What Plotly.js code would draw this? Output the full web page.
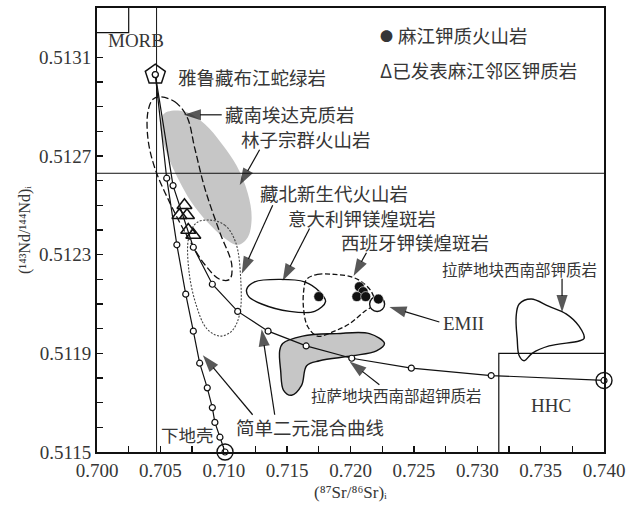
<!DOCTYPE html>
<html>
<head>
<meta charset="utf-8">
<script src="https://cdn.plot.ly/plotly-3.0.1.min.js"></script>
<style>
  html, body { margin: 0; padding: 0; background: #fff; }
  #chart { width: 630px; height: 512px; }
</style>
</head>
<body>
<div id="chart"></div>
<script>
// ---- end-members ----
const ophioliteSr = [0.7046], ophioliteNd = [0.51303];      // 雅鲁藏布江蛇绿岩
const lowerCrustSr = [0.7101], lowerCrustNd = [0.51150];    // 下地壳
const hhcSr = [0.7400], hhcNd = [0.51179];                  // HHC
const emiiSr = [0.7221], emiiNd = [0.51210];                // EMII

// ---- simple binary mixing curves ----
const mixCrustSr = [0.7046, 0.7055, 0.7063, 0.7070, 0.7076, 0.7081, 0.7087, 0.7091, 0.7093, 0.7097, 0.7101];
const mixCrustNd = [0.51303, 0.51261, 0.51234, 0.51214, 0.51199, 0.51186, 0.51176, 0.51168, 0.51162, 0.51156, 0.51150];
const mixHhcSr = [0.7046, 0.7060, 0.7076, 0.7091, 0.7111, 0.7135, 0.7165, 0.7201, 0.7248, 0.7311, 0.7400];
const mixHhcNd = [0.51303, 0.51258, 0.51233, 0.51218, 0.51207, 0.51199, 0.51193, 0.51188, 0.51184, 0.51181, 0.51179];

// ---- samples ----
const majiangSr = [0.7175, 0.7207, 0.7210, 0.7205, 0.7212, 0.7222];
const majiangNd = [0.51213, 0.51217, 0.51215, 0.51213, 0.51213, 0.51212];
const nearbySr = [0.7069, 0.7065, 0.7071, 0.7072, 0.7076];
const nearbyNd = [0.51250, 0.51246, 0.51246, 0.51240, 0.51238];

// ---- reference lines and boxes ----
const bulkSr = 0.7047, bulkNd = 0.51263;
const morbBoxSr = [0.7000, 0.7025, 0.7025], morbBoxNd = [0.51320, 0.51320, 0.51330];
const hhcBoxSr = [0.7317, 0.7317, 0.7400], hhcBoxNd = [0.51150, 0.51190, 0.51190];

// ---- field outlines ----
const linziSr = [0.70559, 0.70693, 0.70850, 0.70984, 0.71102, 0.71189, 0.71220, 0.71189, 0.71110, 0.71000, 0.70874, 0.70748, 0.70638, 0.70551, 0.70504, 0.70512, 0.70559];
const linziNd = [0.51288, 0.51288, 0.51283, 0.51275, 0.51266, 0.51255, 0.51245, 0.51237, 0.51234, 0.51237, 0.51243, 0.51251, 0.51261, 0.51271, 0.51280, 0.51286, 0.51288];
const adakiteSr = [0.70496, 0.70614, 0.70709, 0.70772, 0.70850, 0.70969, 0.71063, 0.71047, 0.70969, 0.70850, 0.70717, 0.70575, 0.70457, 0.70402, 0.70402, 0.70441, 0.70496];
const adakiteNd = [0.51294, 0.51292, 0.51286, 0.51273, 0.51257, 0.51239, 0.51226, 0.51220, 0.51220, 0.51226, 0.51237, 0.51251, 0.51265, 0.51277, 0.51288, 0.51293, 0.51294];
const nTibetSr = [0.70890, 0.71008, 0.71094, 0.71134, 0.71126, 0.71063, 0.70969, 0.70866, 0.70780, 0.70724, 0.70724, 0.70787, 0.70890];
const nTibetNd = [0.51244, 0.51242, 0.51235, 0.51220, 0.51206, 0.51199, 0.51197, 0.51200, 0.51210, 0.51224, 0.51237, 0.51243, 0.51244];
const italySr = [0.71181, 0.71244, 0.71441, 0.71638, 0.71756, 0.71803, 0.71717, 0.71520, 0.71299, 0.71197, 0.71181];
const italyNd = [0.51216, 0.51219, 0.51220, 0.51219, 0.51215, 0.51211, 0.51207, 0.51207, 0.51210, 0.51213, 0.51216];
const spainSr = [0.71654, 0.71740, 0.71874, 0.72008, 0.72087, 0.72165, 0.72189, 0.72110, 0.71992, 0.71874, 0.71740, 0.71661, 0.71630, 0.71630, 0.71654];
const spainNd = [0.51220, 0.51222, 0.51222, 0.51221, 0.51219, 0.51215, 0.51210, 0.51207, 0.51202, 0.51199, 0.51197, 0.51201, 0.51208, 0.51215, 0.51220];
const ultraSr = [0.71465, 0.71622, 0.71890, 0.72150, 0.72268, 0.72205, 0.72016, 0.71756, 0.71654, 0.71614, 0.71535, 0.71472, 0.71449, 0.71441, 0.71465];
const ultraNd = [0.51194, 0.51197, 0.51198, 0.51198, 0.51194, 0.51191, 0.51189, 0.51187, 0.51185, 0.51177, 0.51173, 0.51175, 0.51183, 0.51191, 0.51194];
const potassicSr = [0.73331, 0.73425, 0.73567, 0.73701, 0.73803, 0.73843, 0.73803, 0.73567, 0.73433, 0.73370, 0.73331, 0.73315, 0.73307, 0.73331];
const potassicNd = [0.51210, 0.51212, 0.51209, 0.51206, 0.51201, 0.51196, 0.51195, 0.51193, 0.51190, 0.51187, 0.51189, 0.51196, 0.51205, 0.51210];

// ---- leader arrows: tail and head points (Sr, Nd) ----
const arrowTails = [
  [0.70984, 0.512867], [0.71283, 0.512725], [0.71386, 0.512500], [0.71677, 0.512406], [0.72126, 0.512308],
  [0.72701, 0.512027], [0.73669, 0.512202], [0.72228, 0.511773], [0.71228, 0.511651], [0.71402, 0.511651]
];
const arrowHeads = [
  [0.70685, 0.512867], [0.71126, 0.512582], [0.71142, 0.512223], [0.71465, 0.512194], [0.72024, 0.512214],
  [0.72307, 0.512088], [0.73669, 0.512067], [0.71992, 0.511867], [0.70835, 0.511892], [0.71299, 0.511998]
];

const CJK = '"Noto Sans CJK SC", "Noto Sans", sans-serif';
const SERIF = '"Liberation Serif", "DejaVu Serif", serif';
const INK = '#111';
const TXT = '#363636';
const GRAY = '#c6c6c6';

function outline(x, y, dash, width, fillcolor, color) {
  return {
    x: x, y: y, type: 'scatter', mode: 'lines', hoverinfo: 'skip',
    line: { color: color || INK, width: width, dash: dash, shape: 'spline', smoothing: 1 },
    fill: fillcolor ? 'toself' : 'none', fillcolor: fillcolor || 'rgba(0,0,0,0)'
  };
}
function polyline(x, y, width) {
  return { x: x, y: y, type: 'scatter', mode: 'lines', hoverinfo: 'skip',
           line: { color: INK, width: width }, cliponaxis: false };
}
function arrow(tail, head) {
  return {
    x: [tail[0], head[0]], y: [tail[1], head[1]], type: 'scatter', mode: 'lines+markers', hoverinfo: 'skip',
    line: { color: INK, width: 1.2 },
    marker: { symbol: ['circle', 'arrow'], size: [0, 18], angleref: 'previous', color: INK, line: { width: 0 } }
  };
}

const traces = [
  // filled fields underneath everything
  outline(linziSr, linziNd, 'solid', 0, GRAY, GRAY),
  outline(ultraSr, ultraNd, 'solid', 1.4, GRAY),
  // outlined fields
  outline(adakiteSr, adakiteNd, '7px,3px', 1.3),
  outline(nTibetSr, nTibetNd, '2px,1.5px', 1.1, null, '#444'),
  outline(italySr, italyNd, 'solid', 1.4),
  outline(spainSr, spainNd, '5px,2.5px', 1.3),
  outline(potassicSr, potassicNd, 'solid', 1.4),
  // reference lines and boxes
  polyline([bulkSr, bulkSr], [0.5115, 0.5133], 1),
  polyline([0.700, 0.740], [bulkNd, bulkNd], 1),
  polyline(morbBoxSr, morbBoxNd, 1.2),
  polyline(hhcBoxSr, hhcBoxNd, 1.2),
  // mixing curves with mixing-step markers
  { x: mixCrustSr, y: mixCrustNd, type: 'scatter', mode: 'lines+markers', cliponaxis: false, hoverinfo: 'skip',
    line: { color: INK, width: 1.2 },
    marker: { symbol: 'circle', size: 6, color: '#fff', line: { color: INK, width: 1.2 } } },
  { x: mixHhcSr, y: mixHhcNd, type: 'scatter', mode: 'lines+markers', cliponaxis: false, hoverinfo: 'skip',
    line: { color: INK, width: 1.2 },
    marker: { symbol: 'circle', size: 6, color: '#fff', line: { color: INK, width: 1.2 } } },
  // end-members
  { x: ophioliteSr, y: ophioliteNd, type: 'scatter', mode: 'markers', cliponaxis: false, hoverinfo: 'skip',
    marker: { symbol: 'pentagon-open', size: 21, color: INK, line: { width: 1.5 } } },
  { x: lowerCrustSr.concat(hhcSr), y: lowerCrustNd.concat(hhcNd), type: 'scatter', mode: 'markers', cliponaxis: false, hoverinfo: 'skip',
    marker: { symbol: 'circle-open', size: 16, color: INK, line: { width: 1.4 } } },
  { x: emiiSr, y: emiiNd, type: 'scatter', mode: 'markers', hoverinfo: 'skip',
    marker: { symbol: 'circle', size: 15, color: '#fff', line: { color: INK, width: 1.4 } } },
  // samples
  { x: nearbySr, y: nearbyNd, type: 'scatter', mode: 'markers', hoverinfo: 'skip',
    marker: { symbol: 'triangle-up-open', size: 13, color: INK, line: { width: 1.5 } } },
  { x: majiangSr, y: majiangNd, type: 'scatter', mode: 'markers', hoverinfo: 'skip',
    marker: { symbol: 'circle', size: 10, color: INK, line: { color: '#fff', width: 0.6 } } }
].concat(arrowTails.map((t, i) => arrow(t, arrowHeads[i])));

// text labels: [text, Sr, Nd, font size, family, anchor]
const labels = [
  ['MORB', 0.70307, 0.51317, 19, SERIF, 'center'],
  ['雅鲁藏布江蛇绿岩', 0.71220, 0.51302, 18.5, CJK, 'center'],
  ['藏南埃达克质岩', 0.71520, 0.51287, 18.5, CJK, 'center'],
  ['林子宗群火山岩', 0.71646, 0.51277, 18.5, CJK, 'center'],
  ['藏北新生代火山岩', 0.71866, 0.51255, 18.5, CJK, 'center'],
  ['意大利钾镁煌斑岩', 0.72094, 0.51245, 18.5, CJK, 'center'],
  ['西班牙钾镁煌斑岩', 0.72512, 0.51235, 18.5, CJK, 'center'],
  ['拉萨地块西南部钾质岩', 0.73331, 0.51224, 15.5, CJK, 'center'],
  ['EMII', 0.72890, 0.51202, 19, SERIF, 'center'],
  ['拉萨地块西南部超钾质岩', 0.72362, 0.51173, 15.5, CJK, 'center'],
  ['HHC', 0.73583, 0.51169, 19, SERIF, 'center'],
  ['简单二元混合曲线', 0.71677, 0.51160, 18.5, CJK, 'center'],
  ['下地壳', 0.70717, 0.51157, 17.5, CJK, 'center'],
  ['●', 0.72283, 0.51319, 13, CJK, 'center'],
  ['麻江钾质火山岩', 0.72362, 0.51319, 18.5, CJK, 'left'],
  ['Δ已发表麻江邻区钾质岩', 0.72220, 0.51305, 18.5, CJK, 'left']
];

const annotations = labels.map(l => ({
  text: l[0], x: l[1], y: l[2], xref: 'x', yref: 'y', showarrow: false,
  xanchor: l[5], yanchor: 'middle', font: { family: l[4], size: l[3], color: TXT }
}));

const layout = {
  width: 630, height: 512,
  margin: { l: 97, r: 26, t: 8, b: 60 },
  paper_bgcolor: '#fff', plot_bgcolor: '#fff',
  showlegend: false,
  xaxis: {
    range: [0.700, 0.740], tick0: 0.700, dtick: 0.005, tickformat: '.3f',
    ticks: 'inside', ticklen: 6, tickwidth: 1.3, tickcolor: INK,
    minor: { dtick: 0.0025, ticks: 'inside', ticklen: 6, tickwidth: 1.3, tickcolor: INK },
    showgrid: false, zeroline: false,
    showline: true, linecolor: INK, linewidth: 2, mirror: true,
    tickfont: { family: SERIF, size: 19, color: TXT },
    title: { text: '(⁸⁷Sr/⁸⁶Sr)ᵢ', font: { family: SERIF, size: 17, color: TXT }, standoff: 6 }
  },
  yaxis: {
    range: [0.5115, 0.5133], tick0: 0.5115, dtick: 0.0004, tickformat: '.4f',
    ticks: 'inside', ticklen: 6, tickwidth: 1.3, tickcolor: INK,
    minor: { dtick: 0.0001, ticks: 'inside', ticklen: 6, tickwidth: 1.3, tickcolor: INK },
    showgrid: false, zeroline: false,
    showline: true, linecolor: INK, linewidth: 2, mirror: true,
    tickfont: { family: SERIF, size: 19, color: TXT },
    title: { text: '(¹⁴³Nd/¹⁴⁴Nd)ᵢ', font: { family: SERIF, size: 16, color: TXT }, standoff: 4 }
  },
  annotations: annotations
};

Plotly.newPlot('chart', traces, layout, { staticPlot: true, displayModeBar: false });
</script>
</body>
</html>
